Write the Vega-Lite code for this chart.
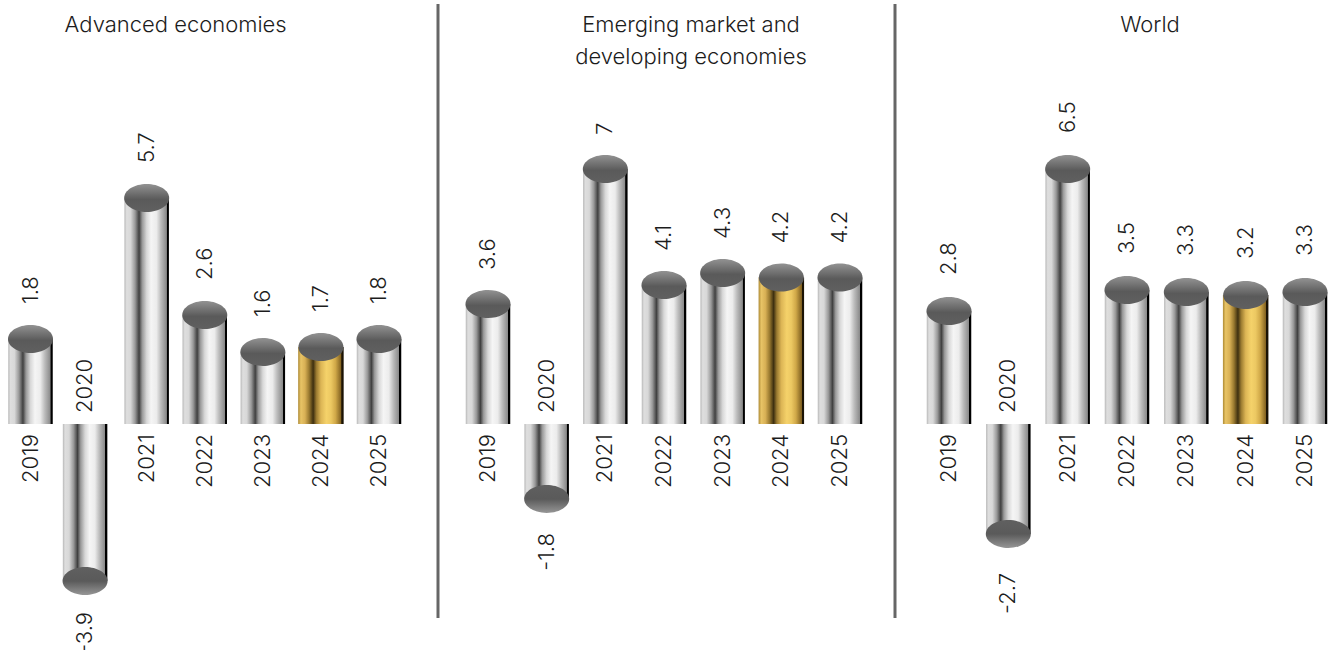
{"$schema":"https://vega.github.io/schema/vega-lite/v6.json","padding":0,"spacing":0,"autosize":{"type":"pad"},"background":"white","config":{"view":{"stroke":null},"text":{"font":"Inter","fontSize":22,"fontWeight":300,"color":"#1c1c1c"},
"bar":{"size":44.5,"fill":{"gradient":"linear","x1":0,"y1":0,"x2":1,"y2":0,"stops":[{"offset":0,"color":"#b8b8b8"},{"offset":0.05,"color":"#dedede"},{"offset":0.14,"color":"#d8d8d8"},{"offset":0.24,"color":"#999999"},{"offset":0.33,"color":"#404040"},{"offset":0.4,"color":"#999999"},{"offset":0.5,"color":"#d8d8d8"},{"offset":0.6,"color":"#f5f5f5"},{"offset":0.72,"color":"#ececec"},{"offset":0.82,"color":"#bcbcbc"},{"offset":0.945,"color":"#8a8a8a"},{"offset":0.955,"color":"#000000"},{"offset":1,"color":"#000000"}]}}},
"datasets":{"growth":[
{"region":"Advanced economies","year":"2019","value":1.8},{"region":"Advanced economies","year":"2020","value":-3.9},{"region":"Advanced economies","year":"2021","value":5.7},{"region":"Advanced economies","year":"2022","value":2.6},{"region":"Advanced economies","year":"2023","value":1.6},{"region":"Advanced economies","year":"2024","value":1.7},{"region":"Advanced economies","year":"2025","value":1.8},
{"region":"Emerging market and\ndeveloping economies","year":"2019","value":3.6},{"region":"Emerging market and\ndeveloping economies","year":"2020","value":-1.8},{"region":"Emerging market and\ndeveloping economies","year":"2021","value":7},{"region":"Emerging market and\ndeveloping economies","year":"2022","value":4.1},{"region":"Emerging market and\ndeveloping economies","year":"2023","value":4.3},{"region":"Emerging market and\ndeveloping economies","year":"2024","value":4.2},{"region":"Emerging market and\ndeveloping economies","year":"2025","value":4.2},
{"region":"World","year":"2019","value":2.8},{"region":"World","year":"2020","value":-2.7},{"region":"World","year":"2021","value":6.5},{"region":"World","year":"2022","value":3.5},{"region":"World","year":"2023","value":3.3},{"region":"World","year":"2024","value":3.2},{"region":"World","year":"2025","value":3.3}]},
"hconcat":[
{"width":438,"height":650,"data":{"name":"growth"},"transform":[{"filter":"datum.region=='Advanced economies'"}],
"encoding":{"x":{"field":"year","type":"nominal","axis":null,"scale":{"type":"point","padding":0,"domain":["2019","2020","2021","2022","2023","2024","2025"],"range":[30.5,379]}},"y":{"field":"value","type":"quantitative","axis":null,"stack":null,"scale":{"nice":false,"zero":false,"domain":[-6,-3.9,0,1.6,1.7,1.8,2.6,5.7,12],"range":[618,581,424,352,347,339,315,198,4]}}},
"layer":[
{"transform":[{"filter":"datum.value>=0 && datum.year!='2024'"}],"mark":{"type":"bar"},"encoding":{"y2":{"datum":0}}},
{"transform":[{"filter":"datum.year=='2024'"}],"mark":{"type":"bar","size":45.5,"fill":{"gradient":"linear","x1":0,"y1":0,"x2":1,"y2":0,"stops":[{"offset":0,"color":"#ad8a35"},{"offset":0.06,"color":"#e8c466"},{"offset":0.15,"color":"#d8b055"},{"offset":0.24,"color":"#9a7a30"},{"offset":0.33,"color":"#3d2f10"},{"offset":0.4,"color":"#9a7a30"},{"offset":0.5,"color":"#dcb555"},{"offset":0.62,"color":"#f5d26a"},{"offset":0.72,"color":"#ecc862"},{"offset":0.82,"color":"#d0a848"},{"offset":0.945,"color":"#806020"},{"offset":0.955,"color":"#1a1204"},{"offset":1,"color":"#1a1204"}]}},"encoding":{"y2":{"datum":0}}},
{"transform":[{"filter":"datum.value<0"}],"mark":{"type":"bar","xOffset":-3.5},"encoding":{"y2":{"datum":0}}},
{"transform":[{"filter":"datum.value>=0"}],"mark":{"type":"point","filled":true,"opacity":1,"size":2025,"shape":"M-1,0A1,0.62 0 1,1 1,0A1,0.62 0 1,1 -1,0Z","fill":{"gradient":"linear","x1":0,"y1":0,"x2":0,"y2":1,"stops":[{"offset":0,"color":"#929292"},{"offset":0.55,"color":"#5a5a5a"},{"offset":1,"color":"#606060"}]}}},
{"transform":[{"filter":"datum.value<0"}],"mark":{"type":"point","filled":true,"opacity":1,"size":2025,"xOffset":-3.5,"shape":"M-1,0A1,0.62 0 1,1 1,0A1,0.62 0 1,1 -1,0Z","fill":{"gradient":"linear","x1":0,"y1":0,"x2":0,"y2":1,"stops":[{"offset":0,"color":"#606060"},{"offset":0.5,"color":"#5a5a5a"},{"offset":1,"color":"#969696"}]}}},
{"transform":[{"filter":"datum.value>=0"}],"mark":{"type":"text","angle":270,"align":"left","baseline":"middle","dx":35},"encoding":{"text":{"field":"value","type":"nominal"}}},
{"transform":[{"filter":"datum.value<0"}],"mark":{"type":"text","angle":270,"align":"right","baseline":"middle","dx":-31,"xOffset":-3.5},"encoding":{"text":{"field":"value","type":"nominal"}}},
{"transform":[{"filter":"datum.value>=0"}],"mark":{"type":"text","angle":270,"align":"right","baseline":"middle","dx":-10},"encoding":{"text":{"field":"year"},"y":{"datum":0}}},
{"transform":[{"filter":"datum.value<0"}],"mark":{"type":"text","angle":270,"align":"left","baseline":"middle","dx":11,"xOffset":-3.5},"encoding":{"text":{"field":"year"},"y":{"datum":0}}},
{"transform":[{"filter":"datum.year=='2019'"}],"mark":{"type":"text","xOffset":29,"baseline":"middle","fontSize":22},"encoding":{"x":{"datum":"2021"},"y":{"datum":11.32},"text":{"field":"region"}}},
{"transform":[{"filter":"datum.year=='2019'"}],"mark":{"type":"rule","color":"#666666","strokeWidth":3},"encoding":{"x":{"value":"width"},"y":{"datum":12},"y2":{"datum":-6}}}
]},
{"width":455,"height":650,"data":{"name":"growth"},"transform":[{"filter":"indexof(datum.region,'Emerging')==0"}],
"encoding":{"x":{"field":"year","type":"nominal","axis":null,"scale":{"type":"point","padding":0,"domain":["2019","2020","2021","2022","2023","2024","2025"],"range":[48,400]}},"y":{"field":"value","type":"quantitative","axis":null,"stack":null,"scale":{"nice":false,"zero":false,"domain":[-6,-1.8,0,3.6,4.1,4.2,4.3,7,12],"range":[618,499,424,304,285,277.5,273,169,4]}}},
"layer":[
{"transform":[{"filter":"datum.year!='2024'"}],"mark":{"type":"bar"},"encoding":{"y2":{"datum":0}}},
{"transform":[{"filter":"datum.year=='2024'"}],"mark":{"type":"bar","size":45.5,"fill":{"gradient":"linear","x1":0,"y1":0,"x2":1,"y2":0,"stops":[{"offset":0,"color":"#ad8a35"},{"offset":0.06,"color":"#e8c466"},{"offset":0.15,"color":"#d8b055"},{"offset":0.24,"color":"#9a7a30"},{"offset":0.33,"color":"#3d2f10"},{"offset":0.4,"color":"#9a7a30"},{"offset":0.5,"color":"#dcb555"},{"offset":0.62,"color":"#f5d26a"},{"offset":0.72,"color":"#ecc862"},{"offset":0.82,"color":"#d0a848"},{"offset":0.945,"color":"#806020"},{"offset":0.955,"color":"#1a1204"},{"offset":1,"color":"#1a1204"}]}},"encoding":{"y2":{"datum":0}}},
{"transform":[{"filter":"datum.value>=0"}],"mark":{"type":"point","filled":true,"opacity":1,"size":2025,"shape":"M-1,0A1,0.62 0 1,1 1,0A1,0.62 0 1,1 -1,0Z","fill":{"gradient":"linear","x1":0,"y1":0,"x2":0,"y2":1,"stops":[{"offset":0,"color":"#929292"},{"offset":0.55,"color":"#5a5a5a"},{"offset":1,"color":"#606060"}]}}},
{"transform":[{"filter":"datum.value<0"}],"mark":{"type":"point","filled":true,"opacity":1,"size":2025,"shape":"M-1,0A1,0.62 0 1,1 1,0A1,0.62 0 1,1 -1,0Z","fill":{"gradient":"linear","x1":0,"y1":0,"x2":0,"y2":1,"stops":[{"offset":0,"color":"#606060"},{"offset":0.5,"color":"#5a5a5a"},{"offset":1,"color":"#969696"}]}}},
{"transform":[{"filter":"datum.value>=0"}],"mark":{"type":"text","angle":270,"align":"left","baseline":"middle","dx":34},"encoding":{"text":{"field":"value","type":"nominal"}}},
{"transform":[{"filter":"datum.value<0"}],"mark":{"type":"text","angle":270,"align":"right","baseline":"middle","dx":-34},"encoding":{"text":{"field":"value","type":"nominal"}}},
{"transform":[{"filter":"datum.value>=0"}],"mark":{"type":"text","angle":270,"align":"right","baseline":"middle","dx":-10},"encoding":{"text":{"field":"year"},"y":{"datum":0}}},
{"transform":[{"filter":"datum.value<0"}],"mark":{"type":"text","angle":270,"align":"left","baseline":"middle","dx":11},"encoding":{"text":{"field":"year"},"y":{"datum":0}}},
{"transform":[{"filter":"datum.year=='2019'"}],"mark":{"type":"text","xOffset":27,"baseline":"middle","lineBreak":"\n","lineHeight":32,"fontSize":22},"encoding":{"x":{"datum":"2022"},"y":{"datum":11.36},"text":{"field":"region"}}},
{"transform":[{"filter":"datum.year=='2019'"}],"mark":{"type":"rule","color":"#666666","strokeWidth":3},"encoding":{"x":{"value":"width"},"y":{"datum":12},"y2":{"datum":-6}}}
]},
{"width":436,"height":650,"data":{"name":"growth"},"transform":[{"filter":"datum.region=='World'"}],
"encoding":{"x":{"field":"year","type":"nominal","axis":null,"scale":{"type":"point","padding":0,"domain":["2019","2020","2021","2022","2023","2024","2025"],"range":[52,408]}},"y":{"field":"value","type":"quantitative","axis":null,"stack":null,"scale":{"nice":false,"zero":false,"domain":[-6,-2.7,0,2.8,3.2,3.3,3.5,6.5,12],"range":[618,534,424,311,295,292,290,169,4]}}},
"layer":[
{"transform":[{"filter":"datum.year!='2024'"}],"mark":{"type":"bar"},"encoding":{"y2":{"datum":0}}},
{"transform":[{"filter":"datum.year=='2024'"}],"mark":{"type":"bar","size":45.5,"fill":{"gradient":"linear","x1":0,"y1":0,"x2":1,"y2":0,"stops":[{"offset":0,"color":"#ad8a35"},{"offset":0.06,"color":"#e8c466"},{"offset":0.15,"color":"#d8b055"},{"offset":0.24,"color":"#9a7a30"},{"offset":0.33,"color":"#3d2f10"},{"offset":0.4,"color":"#9a7a30"},{"offset":0.5,"color":"#dcb555"},{"offset":0.62,"color":"#f5d26a"},{"offset":0.72,"color":"#ecc862"},{"offset":0.82,"color":"#d0a848"},{"offset":0.945,"color":"#806020"},{"offset":0.955,"color":"#1a1204"},{"offset":1,"color":"#1a1204"}]}},"encoding":{"y2":{"datum":0}}},
{"transform":[{"filter":"datum.value>=0"}],"mark":{"type":"point","filled":true,"opacity":1,"size":2025,"shape":"M-1,0A1,0.62 0 1,1 1,0A1,0.62 0 1,1 -1,0Z","fill":{"gradient":"linear","x1":0,"y1":0,"x2":0,"y2":1,"stops":[{"offset":0,"color":"#929292"},{"offset":0.55,"color":"#5a5a5a"},{"offset":1,"color":"#606060"}]}}},
{"transform":[{"filter":"datum.value<0"}],"mark":{"type":"point","filled":true,"opacity":1,"size":2025,"shape":"M-1,0A1,0.62 0 1,1 1,0A1,0.62 0 1,1 -1,0Z","fill":{"gradient":"linear","x1":0,"y1":0,"x2":0,"y2":1,"stops":[{"offset":0,"color":"#606060"},{"offset":0.5,"color":"#5a5a5a"},{"offset":1,"color":"#969696"}]}}},
{"transform":[{"filter":"datum.value>=0"}],"mark":{"type":"text","angle":270,"align":"left","baseline":"middle","dx":36},"encoding":{"text":{"field":"value","type":"nominal"}}},
{"transform":[{"filter":"datum.value<0"}],"mark":{"type":"text","angle":270,"align":"right","baseline":"middle","dx":-39},"encoding":{"text":{"field":"value","type":"nominal"}}},
{"transform":[{"filter":"datum.value>=0"}],"mark":{"type":"text","angle":270,"align":"right","baseline":"middle","dx":-10},"encoding":{"text":{"field":"year"},"y":{"datum":0}}},
{"transform":[{"filter":"datum.value<0"}],"mark":{"type":"text","angle":270,"align":"left","baseline":"middle","dx":11},"encoding":{"text":{"field":"year"},"y":{"datum":0}}},
{"transform":[{"filter":"datum.year=='2019'"}],"mark":{"type":"text","xOffset":23,"baseline":"middle","fontSize":22},"encoding":{"x":{"datum":"2022"},"y":{"datum":11.3},"text":{"field":"region"}}}
]}
]}
